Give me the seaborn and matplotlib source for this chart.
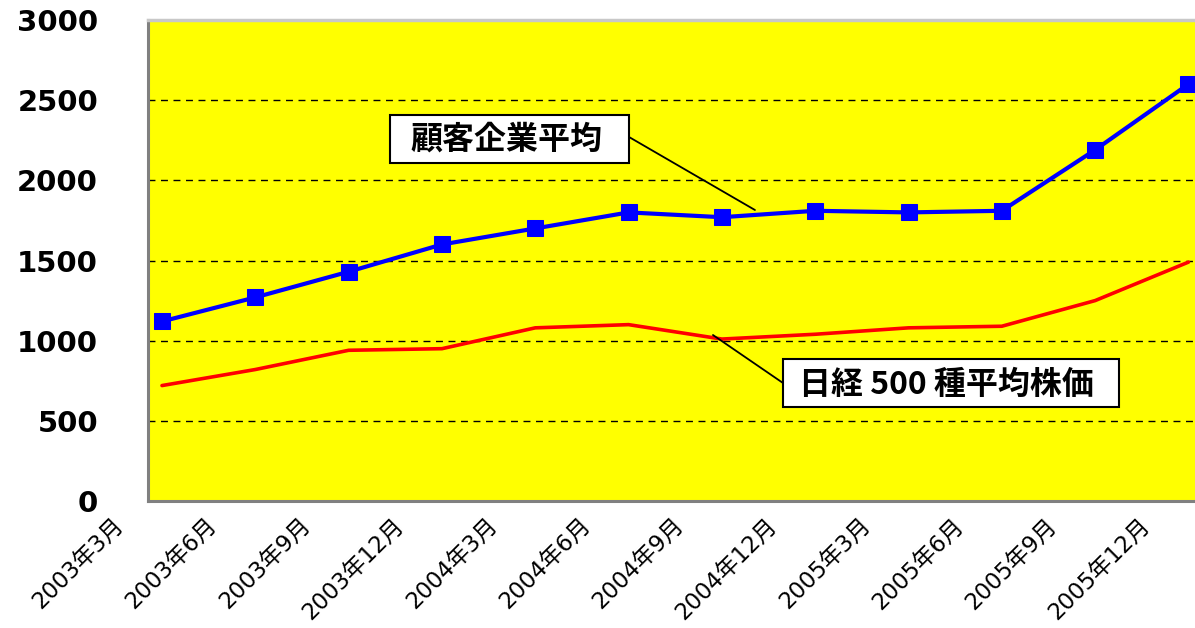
import numpy as np
import pandas as pd
import matplotlib
matplotlib.use("Agg")
import matplotlib.pyplot as plt
import matplotlib.transforms as mtransforms
from matplotlib.patches import Rectangle
import seaborn as sns

# ---- data ----
months = ['2003年3月', '2003年6月', '2003年9月', '2003年12月',
          '2004年3月', '2004年6月', '2004年9月', '2004年12月',
          '2005年3月', '2005年6月', '2005年9月', '2005年12月']
client_avg = [1120, 1270, 1430, 1600, 1700, 1800, 1770, 1810, 1800, 1810, 2190, 2600]
nikkei500 = [720, 820, 940, 950, 1080, 1100, 1010, 1040, 1080, 1090, 1250, 1490]
y_ticks = [0, 500, 1000, 1500, 2000, 2500, 3000]
label_client = '顧客企業平均'
label_nikkei = '日経 500 種平均株価'

sns.set_style('white')
plt.rcParams['font.family'] = ['DejaVu Sans', 'Noto Sans CJK JP']
plt.rcParams['text.color'] = 'black'

df = pd.DataFrame({'pos': np.arange(len(months)), 'month': months,
                   'client': client_avg, 'nikkei': nikkei500})

fig = plt.figure(figsize=(11.95, 6.28), dpi=100)
ax = fig.add_axes([148 / 1195, 1 - 501 / 628, 1 - 148 / 1195, 481 / 628])
ax.set_facecolor('#FFFF00')

sns.lineplot(data=df, x='pos', y='nikkei', ax=ax, color='#FF0000', lw=2.6,
             zorder=3, legend=False)
sns.lineplot(data=df, x='pos', y='client', ax=ax, color='#0000FF', lw=3.0,
             marker='s', markersize=12, markeredgecolor='#0000FF',
             zorder=4, legend=False, clip_on=True)

ax.set_xlim(-0.15, 11.07)
ax.set_ylim(0, 3000)

# grid
for v in y_ticks[1:-1]:
    ax.axhline(v, color='black', lw=1.0, ls=(0, (5, 4)), zorder=1)

# spines
for s in ['left', 'bottom']:
    ax.spines[s].set_color('#808080')
    ax.spines[s].set_linewidth(2.2)
ax.spines['top'].set_color('#c8c8c8')
ax.spines['top'].set_linewidth(2.5)
ax.spines['right'].set_visible(False)

# ticks
ax.set_yticks(y_ticks)
ax.set_yticklabels([str(v) for v in y_ticks], fontsize=21, fontweight='bold',
                   family=['DejaVu Sans'], color='black')
ax.tick_params(axis='y', direction='in', length=7, width=1.2, color='black',
               labelcolor='black', pad=36)

ax.set_xticks(df['pos'] - 0.15)
ax.set_xticklabels(df['month'], fontsize=16.5, rotation=45, ha='right', va='top',
                   rotation_mode='anchor', color='black',
                   family=['DejaVu Sans', 'Noto Sans CJK JP'])
ax.tick_params(axis='x', direction='in', length=7, width=1.2, color='black',
               labelcolor='black', pad=9)
offset = mtransforms.ScaledTranslation(-36 / 100, 0, fig.dpi_scale_trans)
for lab in ax.get_xticklabels():
    lab.set_transform(lab.get_transform() + offset)

ax.set_xlabel('')
ax.set_ylabel('')

# annotation boxes
cjk = ['Noto Sans CJK JP', 'DejaVu Sans']
ax.add_patch(Rectangle((0.2311, 0.7027), 0.4594 - 0.2311, 0.8025 - 0.7027,
                       transform=ax.transAxes, facecolor='white',
                       edgecolor='black', lw=1.5, zorder=6))
ax.text(0.342, 0.752, label_client, transform=ax.transAxes, ha='center',
        va='center', fontsize=23, fontweight='bold', family=cjk, zorder=7,
        color='black')
ax.annotate('', xy=(0.5797, 0.605), xytext=(0.4594, 0.7568),
            xycoords='axes fraction', textcoords='axes fraction',
            arrowprops=dict(arrowstyle='-', lw=1.3, color='black',
                            shrinkA=0, shrinkB=0), zorder=5)

ax.add_patch(Rectangle((0.6065, 0.1954), 0.9274 - 0.6065, 0.2952 - 0.1954,
                       transform=ax.transAxes, facecolor='white',
                       edgecolor='black', lw=1.5, zorder=6))
ax.text(0.763, 0.242, label_nikkei, transform=ax.transAxes, ha='center',
        va='center', fontsize=23, fontweight='bold', family=cjk, zorder=7,
        color='black')
ax.annotate('', xy=(0.5396, 0.3451), xytext=(0.6065, 0.2453),
            xycoords='axes fraction', textcoords='axes fraction',
            arrowprops=dict(arrowstyle='-', lw=1.3, color='black',
                            shrinkA=0, shrinkB=0), zorder=5)

fig.savefig('out.png', dpi=100)
